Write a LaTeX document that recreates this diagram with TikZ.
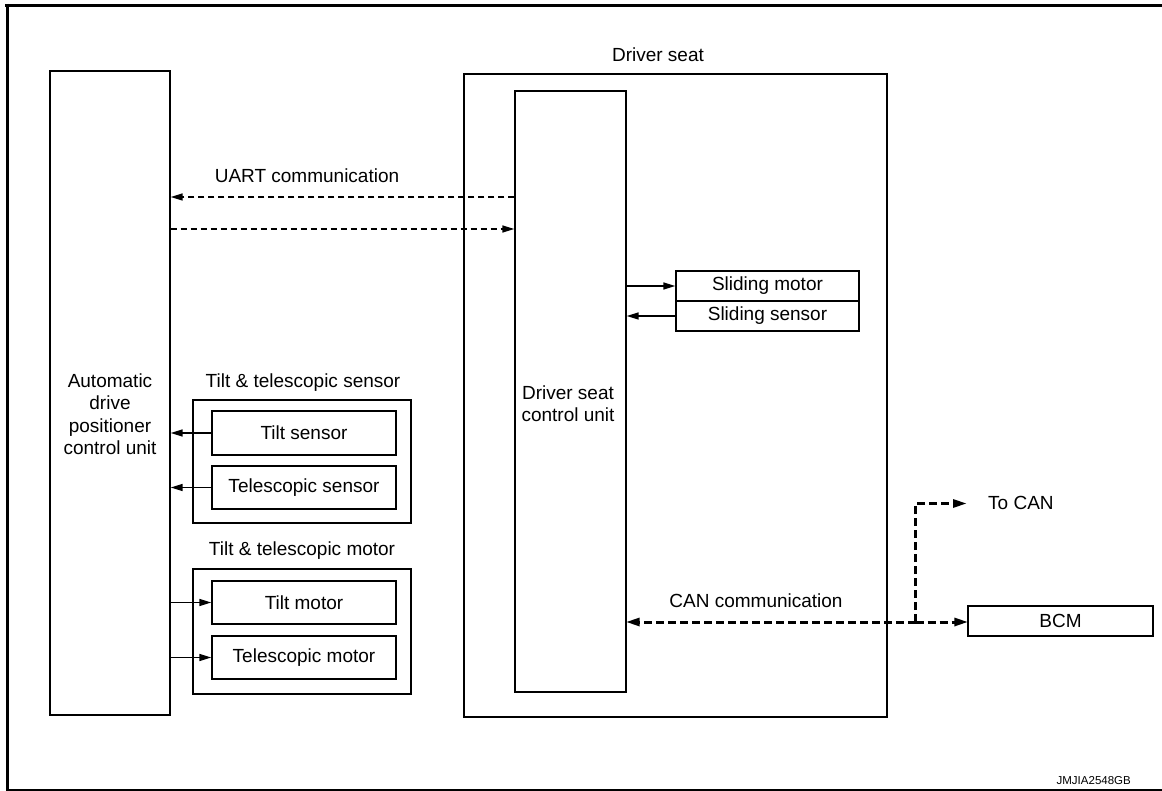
\documentclass[tikz,border=0pt]{standalone}
\usepackage{fontspec}
\setmainfont{Liberation Sans}
\usetikzlibrary{arrows.meta}
\begin{document}
\begin{tikzpicture}[x=1pt,y=-1pt,
  every node/.style={font=\fontsize{19pt}{22.5pt}\selectfont, inner sep=0pt},
  box/.style={draw, line width=1.4pt, minimum width=#1, anchor=center},
  lbl/.style={align=center},
  sig/.style={line width=1.5pt, -{Triangle[length=12pt,width=7pt]}},
  uart/.style={line width=1.5pt, dash pattern=on 6pt off 4pt, -{Triangle[length=12pt,width=7pt]}},
  can/.style={line width=3pt, dash pattern=on 8pt off 4pt},
]
\useasboundingbox (0,0) rectangle (1162,791);
% frame
\draw[line width=3pt] (5,5.5) -- (1162,5.5);
\draw[line width=3pt] (7.5,4) -- (7.5,791);
\draw[line width=1.5pt] (6,790) -- (1162,790);

% ADP control unit
\node[box=120pt, minimum height=644pt] (adp) at (110,393) {};
\node[lbl] (adptext) at (110,414) {Automatic\\drive\\positioner\\control unit};

% Driver seat
\node[box=423pt, minimum height=643pt] (seat) at (675.5,395.5) {};
\node (seatlbl) at (658,55) {Driver seat};
\node[box=111pt, minimum height=601pt] (cu) at (570.5,391.5) {};
\node[lbl] (cutext) at (568,403.5) {Driver seat\\control unit};

% sliding
\node[box=183pt, minimum height=30pt] (smot) at (767.5,286) {Sliding motor};
\node[box=183pt, minimum height=30pt] (ssen) at (767.5,316) {Sliding sensor};
\draw[sig] (cu.east |- smot) -- (smot.west);
\draw[sig] (ssen.west) -- (cu.east |- ssen);

% sensors
\node (senslbl) at (303,383) {Tilt \& telescopic sensor};
\node[box=218pt, minimum height=123pt] (sgrp) at (302,461.5) {};
\node[box=184pt, minimum height=44pt] (tsen) at (304,433) {Tilt sensor};
\node[box=184pt, minimum height=43pt] (tesen) at (304,487.5) {Telescopic sensor};
\draw[sig] (tsen.west) -- (adp.east |- tsen);
\draw[sig] (tesen.west) -- (adp.east |- tesen);

% motors
\node (motlbl) at (302,551) {Tilt \& telescopic motor};
\node[box=218pt, minimum height=125pt] (mgrp) at (302,631.5) {};
\node[box=184pt, minimum height=43pt] (tmot) at (304,602.5) {Tilt motor};
\node[box=184pt, minimum height=43pt] (temot) at (304,657.5) {Telescopic motor};
\draw[sig] (adp.east |- tmot) -- (tmot.west);
\draw[sig] (adp.east |- temot) -- (temot.west);

% UART
\node (uartlbl) at (307,176) {UART communication};
\coordinate (u1) at (515,197);
\coordinate (u2) at (170,229);
\draw[uart] (cu.west |- u1) -- (adp.east |- u1);
\draw[uart] (adp.east |- u2) -- (cu.west |- u2);

% CAN
\node[box=185pt, minimum height=30pt] (bcm) at (1060.5,621) {BCM};
\node (canlbl) at (756,601) {CAN communication};
\coordinate (junc) at (915.5,622);
\coordinate (up) at (915.5,503.5);
\coordinate (tocan) at (966,503.5);
\node[anchor=west] (tocanlbl) at (988,503) {To CAN};
\draw[can] (junc) -- ([xshift=10pt]cu.east |- junc);
\draw[can] (junc) -- ([xshift=-10pt]bcm.west |- junc);
\draw[can] (junc) -- (up) -- ([xshift=-10pt]tocan);
\fill (cu.east |- junc) -- ++(13,-4.5) -- ++(0,9) -- cycle;
\fill (bcm.west |- junc) -- ++(-13,-4.5) -- ++(0,9) -- cycle;
\fill (tocan) -- ++(-13,-4.5) -- ++(0,9) -- cycle;

\node[anchor=base east, font=\fontsize{11.5pt}{13pt}\selectfont] (code) at (1131,784) {JMJIA2548GB};
\end{tikzpicture}
\end{document}
